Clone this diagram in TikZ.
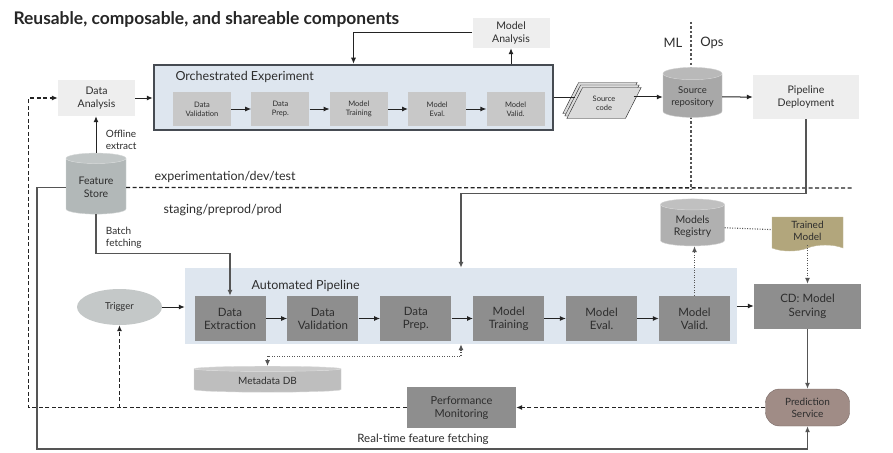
\documentclass[tikz,border=0pt]{standalone}
\usepackage{fontspec}
\setmainfont{Lato}
\usetikzlibrary{arrows.meta, positioning, shapes.geometric, shapes.symbols, shadows}
\definecolor{txtdark}{RGB}{45,45,45}
\definecolor{linedark}{RGB}{35,35,35}
\definecolor{linegray}{RGB}{85,85,85}
\definecolor{softgray}{RGB}{238,238,238}
\definecolor{midgray}{RGB}{200,200,200}
\definecolor{pipegray}{RGB}{142,142,142}
\definecolor{paleblue}{RGB}{222,230,239}
\definecolor{orchedge}{RGB}{70,75,82}
\definecolor{fsgray}{RGB}{178,184,184}
\definecolor{repogray}{RGB}{168,168,168}
\definecolor{reggray}{RGB}{176,176,176}
\definecolor{metagray}{RGB}{190,190,190}
\definecolor{triggray}{RGB}{196,200,200}
\definecolor{khaki}{RGB}{178,166,124}
\definecolor{predbrown}{RGB}{160,140,134}

\begin{document}
\begin{tikzpicture}[x=1pt, y=-1pt, >={Latex[length=6pt, width=5pt]},
  every node/.style={text=txtdark, align=center},
  softbox/.style={fill=softgray, font=\fontsize{10.5}{12.5}\selectfont},
  expbox/.style={fill=midgray, minimum width=58pt, minimum height=34pt,
                 font=\fontsize{7.5}{9}\selectfont},
  pipebox/.style={fill=pipegray, minimum width=71pt, minimum height=45pt,
                  font=\fontsize{11.5}{13}\selectfont},
  dbcyl/.style={cylinder, shape border rotate=90, aspect=0.25, draw=#1!55!white,
                cylinder uses custom fill, cylinder body fill=#1,
                cylinder end fill=#1!80!white},
  flow/.style={->, line width=1pt, draw=linedark},
  feed/.style={line width=1.2pt, draw=linegray},
  dashflow/.style={->, line width=1.1pt, draw=linedark, dash pattern=on 4pt off 2.5pt},
  dotflow/.style={line width=1.1pt, draw=linegray, dash pattern=on 1pt off 1.5pt},
  envline/.style={line width=1.3pt, draw=linedark, dash pattern=on 4pt off 2.5pt}]

  \path[use as bounding box, fill=white] (0,0) rectangle (893,452);

  % Title
  \node[anchor=west, text=black!85, font=\bfseries\fontsize{17.4}{20}\selectfont]
    (title) at (10,19) {Reusable, composable, and shareable components};

  % ML / Ops split
  \coordinate (mltop) at (691,22);
  \coordinate (mlbot) at (691,190);
  \draw[envline, draw=linegray, dash pattern=on 2.5pt off 2pt] (mltop) -- (mlbot);
  \node[font=\fontsize{13}{15}\selectfont] (ml) at (673,43) {ML};
  \node[font=\fontsize{13}{15}\selectfont] (ops) at (712,43) {Ops};

  % Feature Store and environment split
  \node[dbcyl=fsgray, minimum width=60pt, minimum height=61pt,
        font=\fontsize{10.5}{12.5}\selectfont] (fs) at (96,187.5) {Feature\\Store};
  \coordinate (envend) at (852,188);
  \draw[envline] (fs.east) -- (envend);
  \node[anchor=west, font=\fontsize{12.5}{15}\selectfont]
    (envtop) at (151,177) {experimentation/dev/test};
  \node[anchor=west, font=\fontsize{12.5}{15}\selectfont]
    (envbot) at (160,210) {staging/preprod/prod};

  % Orchestrated Experiment
  \node[draw=orchedge, line width=2.5pt, fill=paleblue, minimum width=399pt,
        minimum height=65pt] (orch) at (353.5,97.5) {};
  \node[anchor=west, font=\fontsize{12.5}{15}\selectfont]
    (orchtitle) at (172,77) {Orchestrated Experiment};
  \node[expbox] (ov) at (202,109) {Data\\Validation};
  \node[expbox, right=20pt of ov] (op) {Data\\Prep.};
  \node[expbox, right=20pt of op] (ot) {Model\\Training};
  \node[expbox, right=20pt of ot] (oe) {Model\\Eval.};
  \node[expbox, right=20pt of oe] (oa) {Model\\Valid.};
  \draw[flow] (ov) -- (op);
  \draw[flow] (op) -- (ot);
  \draw[flow] (ot) -- (oe);
  \draw[flow] (oe) -- (oa);

  % Data Analysis
  \node[softbox, minimum width=77pt, minimum height=36pt] (da) at (96.5,98) {Data\\Analysis};
  \draw[flow] (da.east) -- (orch.west |- da.east);
  \draw[flow] (fs.north) -- (fs.north |- da.south)
    node[pos=0.35, anchor=west, xshift=6pt, align=left,
         font=\fontsize{10}{12}\selectfont] {Offline\\extract};

  % Model Analysis
  \node[softbox, minimum width=77pt, minimum height=30pt] (ma) at (511,33) {Model\\Analysis};
  \draw[flow] (orch.north -| ma.south) -- (ma.south);
  \draw[flow] (ma.west) -| (orch.north);

  % Source code
  \node[trapezium, trapezium left angle=63, trapezium right angle=117,
        draw=linedark, fill=softgray!92!black, minimum height=31pt, minimum width=44pt,
        double copy shadow={shadow xshift=-2pt, shadow yshift=2.5pt},
        font=\fontsize{7.5}{9}\selectfont] (sc) at (604,103) {Source\\code};
  \draw[flow, -] (orch.east) -- (sc.west |- orch.east);

  % Source repository
  \node[dbcyl=repogray, minimum width=59pt, minimum height=50pt,
        font=\fontsize{9.5}{11.5}\selectfont] (repo) at (692.5,97) {Source\\repository};
  \draw[flow] (repo.west -| sc.east) -- (repo.west);

  % Pipeline Deployment
  \node[softbox, minimum width=106pt, minimum height=44pt] (pd) at (806,97) {Pipeline\\Deployment};
  \draw[flow] (repo) -- (pd);

  % Automated Pipeline
  \node[fill=paleblue, minimum width=552pt, minimum height=76pt] (ap) at (461,306) {};
  \node[anchor=west, font=\fontsize{12.5}{15}\selectfont]
    (aptitle) at (248,286) {Automated Pipeline};
  \node[pipebox] (dx) at (230,318.5) {Data\\Extraction};
  \node[pipebox, right=21.5pt of dx] (dv) {Data\\Validation};
  \node[pipebox, right=21.5pt of dv] (dp) {Data\\Prep.};
  \node[pipebox, right=21.5pt of dp] (mt) {Model\\Training};
  \node[pipebox, right=21.5pt of mt] (me) {Model\\Eval.};
  \node[pipebox, right=21.5pt of me] (mv) {Model\\Valid.};
  \draw[flow] (dx) -- (dv);
  \draw[flow] (dv) -- (dp);
  \draw[flow] (dp) -- (mt);
  \draw[flow] (mt) -- (me);
  \draw[flow] (me) -- (mv);
  \draw[feed, ->] (pd.south) -- ++(0,74) -| (ap.north);

  % Trigger
  \node[ellipse, fill=triggray, minimum width=85pt, minimum height=36pt,
        font=\fontsize{9.5}{11}\selectfont] (trig) at (119.5,307) {Trigger};
  \draw[flow] (trig.east) -- (trig.east -| ap.west);

  % Serving side
  \node[pipebox, minimum width=107pt, font=\fontsize{11.5}{13.5}\selectfont]
    (cd) at (807.5,306.5) {CD: Model\\Serving};
  \draw[flow] (ap.east) -- (ap.east -| cd.west);
  \node[dbcyl=reggray, minimum width=64pt, minimum height=47pt,
        font=\fontsize{10.5}{12.5}\selectfont] (mr) at (692.5,226.5) {Models\\Registry};
  \draw[dotflow, ->] (mv.north) -- (mv.north |- mr.south);
  \node[tape, tape bend top=none, tape bend height=6pt, fill=khaki, draw=khaki!80!white,
        minimum width=71pt, minimum height=34pt,
        font=\fontsize{10}{12}\selectfont] (tm) at (807.5,231) {Trained\\Model};
  \draw[dotflow] (mr) -- (tm);
  \draw[dotflow, ->] (tm.south) -- (tm.south |- cd.north);
  \node[rounded corners=14pt, fill=predbrown, draw=predbrown!75!black,
        minimum width=84pt, minimum height=37pt,
        font=\fontsize{10}{12}\selectfont] (ps) at (807.5,407.5) {Prediction\\Service};
  \draw[feed, ->] (cd.south) -- (cd.south |- ps.north);

  % Monitoring loop
  \node[pipebox, minimum width=109pt, minimum height=41pt,
        font=\fontsize{11}{13}\selectfont] (pm) at (461.5,407.5) {Performance\\Monitoring};
  \draw[dashflow] (ps) -- (pm);
  \draw[dashflow] (pm.west) -- ++(-378,0) |- (da.west);
  \draw[dashflow] (trig.south |- pm.west) -- (trig.south);

  % Metadata DB
  \node[dbcyl=metagray, minimum width=147pt, minimum height=26pt, aspect=0.08,
        font=\fontsize{10}{12}\selectfont] (md) at (267.5,381) {Metadata DB};
  \draw[dotflow, <->] (ap.south) -- ++(0,12) -| (md.north);

  % Feature fetching
  \draw[feed, ->] (fs.south) -- ++(0,39)
    node[pos=0.6, anchor=west, xshift=6pt, align=left, text=txtdark,
         font=\fontsize{10}{12}\selectfont] {Batch\\fetching}
    -| (dx.north);
  \draw[feed, ->] (fs.west) -| (37,449) -| (ps.south);
  \node[font=\fontsize{11.5}{13}\selectfont] (rtlabel) at (423,439) {Real-time feature fetching};
\end{tikzpicture}
\end{document}
